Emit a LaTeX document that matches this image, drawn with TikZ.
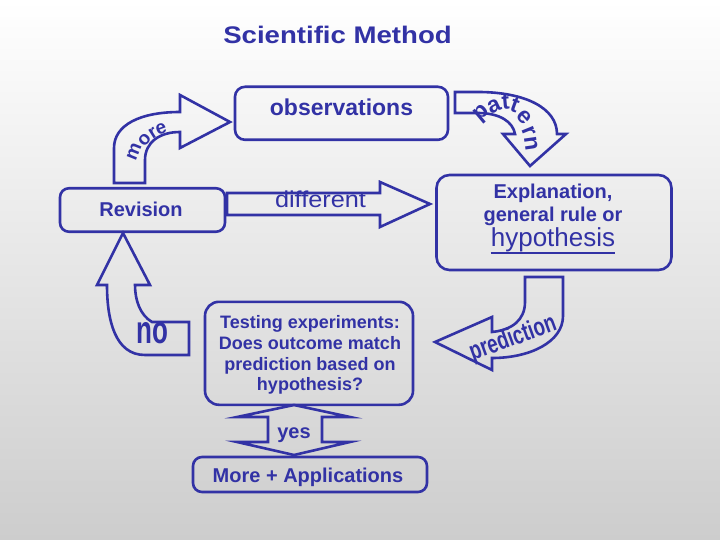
\documentclass[tikz,border=0pt]{standalone}
\usepackage{fontspec}
\setmainfont{Liberation Sans}
\definecolor{sb}{RGB}{50,50,165}
\definecolor{bgb}{RGB}{205,205,205}
\newcommand\fsz[2]{\fontsize{#1}{#2}\selectfont\bfseries}
\newcommand\fszr[2]{\fontsize{#1}{#2}\selectfont}
\begin{document}
\begin{tikzpicture}[x=1pt,y=-1pt,
  box/.style={draw=sb, line width=2.6pt, rounded corners=10pt, inner sep=0pt},
  blk/.style={draw=sb, line width=2.6pt, line join=miter, miter limit=10},
  lbl/.style={text=sb, inner sep=0pt, anchor=base},
  ltr/.style={text=sb, inner sep=0pt}]
\shade[top color=white, bottom color=bgb] (0,0) rectangle (720,540);
\useasboundingbox (0,0) rectangle (720,540);

% title
\node[lbl, font=\fsz{24}{28}] (title) at (337.5,44) {\scalebox{1.15}[1]{Scientific Method}};

% boxes
\node[box, minimum width=213pt, minimum height=53pt] (obs) at (341.5,113.3) {};
\node[lbl, font=\fsz{23}{27}] (obsT) at (341.5,116) {observations};

\node[box, minimum width=165pt, minimum height=43.5pt, rounded corners=9pt] (rev) at (142.5,210) {};
\node[lbl, font=\fsz{20}{24}] (revT) at (141,217) {Revision};

\node[box, minimum width=235pt, minimum height=95pt, rounded corners=13pt] (expl) at (554,222.5) {};
\node[lbl, font=\fsz{20}{24}] (e1) at (553,199) {Explanation,};
\node[lbl, font=\fsz{20}{24}] (e2) at (553,222) {general rule or};
\node[lbl, font=\fszr{26}{30}] (e3) at (553,247) {hypothesis};
\draw[sb, line width=1.8pt] ([yshift=-6pt]e3.base west) -- ([yshift=-6pt]e3.base east);

\node[box, minimum width=208pt, minimum height=103pt, rounded corners=14pt] (test) at (309,353.3) {};
\node[ltr, font=\fsz{18}{20.7}, align=center] (testT) at (310,355) {Testing experiments:\\Does outcome match\\prediction based on\\hypothesis?};

\node[box, minimum width=234pt, minimum height=35pt, rounded corners=9pt] (more) at (310,474.5) {};
\node[lbl, font=\fsz{20}{24}] (moreT) at (308,482) {More + Applications};

% different arrow
\draw[blk] (227,193) -- (380,193) -- (380,182) -- (430,204) -- (380,227) -- (380,215) -- (227,215) -- cycle;
\node[lbl, font=\fszr{23}{27}] (diffT) at (320.5,207.5) {\scalebox{1.1}[1]{different}};

% yes arrow
\draw[blk] (294,405) -- (350,417) -- (322,417) -- (322,442) -- (350,442) -- (294,455) -- (237,442) -- (268,442) -- (268,417) -- (237,417) -- cycle;
\node[lbl, font=\fsz{20}{24}] (yesT) at (294,438) {yes};

% no arrow
\draw[blk] (189,322) -- (152,322) .. controls (140,315) and (135,300) .. (135,285) -- (150,285) -- (123,233) -- (97,285) -- (107,285) .. controls (107,320) and (115,355) .. (145,355) -- (189,355) -- cycle;
\node[lbl, font=\fsz{26}{30}] (noT) at (152,343) {\scalebox{1}[1.5]{no}};

% more arrow
\draw[blk] (114,183) -- (114,148) .. controls (114,125) and (140,112) .. (180,112) -- (180,95) -- (230,122) -- (180,148) -- (180,132) .. controls (160,132) and (145,142) .. (145,160) -- (145,183) -- cycle;
\node[ltr, font=\fsz{19}{19}, rotate=68] (mo1) at (134,152) {m};
\node[ltr, font=\fsz{19}{19}, rotate=48] (mo2) at (144.5,140) {o};
\node[ltr, font=\fsz{19}{19}, rotate=32] (mo3) at (153,133.5) {r};
\node[ltr, font=\fsz{19}{19}, rotate=20] (mo4) at (161,128.5) {e};

% pattern arrow
\draw[blk] (455,92) -- (478,92) .. controls (525,92) and (557,108) .. (557,134) -- (566,134) -- (530,166) -- (503,134) -- (515,134) .. controls (513,122) and (500,113) .. (478,113) -- (455,113) -- cycle;
\node[ltr, font=\fsz{23}{23}, rotate=40] (pa1) at (482,114) {p};
\node[ltr, font=\fsz{23}{23}, rotate=25] (pa2) at (494,106) {a};
\node[ltr, font=\fsz{23}{23}, rotate=5] (pa3) at (505.5,102) {t};
\node[ltr, font=\fsz{23}{23}, rotate=-20] (pa4) at (515,105) {t};
\node[ltr, font=\fsz{23}{23}, rotate=-48] (pa5) at (524,117) {e};
\node[ltr, font=\fsz{23}{23}, rotate=-68] (pa6) at (529,131) {r};
\node[ltr, font=\fsz{23}{23}, rotate=-82] (pa7) at (531,144) {n};

% prediction arrow
\draw[blk] (525,277) -- (563,277) -- (563,316) .. controls (563,342) and (530,358) .. (492,358) -- (492,370) -- (435,342) -- (492,317) -- (492,332) .. controls (512,330) and (525,320) .. (525,302) -- cycle;
\node[ltr, font=\fsz{26}{26}, rotate=20] (predT) at (513,339) {\scalebox{0.72}[1]{prediction}};
\end{tikzpicture}
\end{document}
